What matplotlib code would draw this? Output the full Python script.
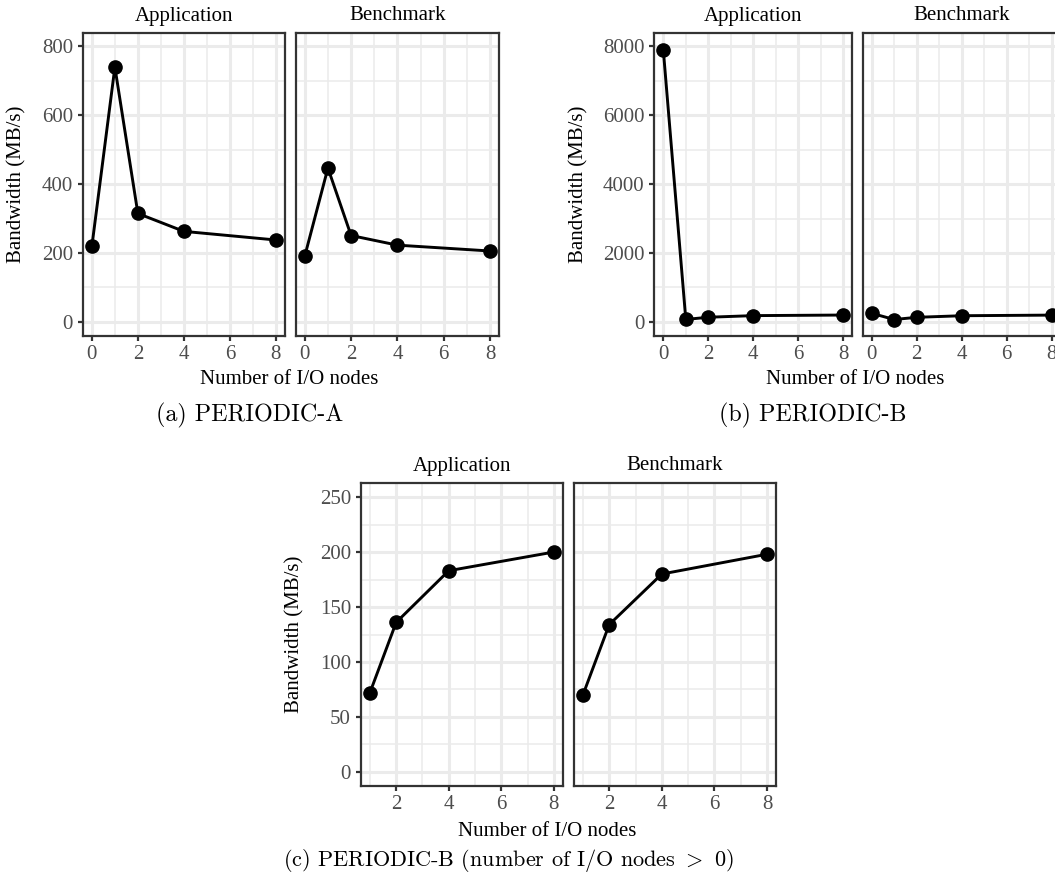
import matplotlib
matplotlib.use("Agg")
import matplotlib.pyplot as plt
import numpy as np

# ---------------- data ----------------
nodes = [0, 1, 2, 4, 8]
periodic_a_app = [220, 740, 315, 263, 238]
periodic_a_bench = [191, 447, 251, 223, 206]

periodic_b_app = [7900, 72, 136, 183, 200]
periodic_b_bench = [250, 70, 134, 180, 198]

nodes_pos = [1, 2, 4, 8]
periodic_b_pos_app = [72, 136, 183, 200]
periodic_b_pos_bench = [70, 134, 180, 198]

facet_labels = ["Application", "Benchmark"]
captions = ["(a) PERIODIC-A", "(b) PERIODIC-B",
            r"(c) PERIODIC-B (number of I/O nodes $>$ 0)"]
xlabel = "Number of I/O nodes"
ylabel = "Bandwidth (MB/s)"

# ---------------- style ----------------
plt.rcParams['mathtext.fontset'] = 'cm'
W, H = 1055, 882
fig = plt.figure(figsize=(W / 100, H / 100), dpi=100)
SERIF = ['Liberation Serif', 'DejaVu Serif']
FS = 15
GRID = '#EBEBEB'
EDGE = '#333333'
TICKC = '#4D4D4D'


def px_axes(x0, x1, y0, y1):
    return fig.add_axes([x0 / W, 1 - y1 / H, (x1 - x0) / W, (y1 - y0) / H])


def ftext(x, y, s, **kw):
    fig.text(x / W, 1 - y / H, s, **kw)


def style_axes(ax, xlim, ylim, xmaj, xmin, ymaj, ymin, show_y):
    ax.set_xlim(*xlim)
    ax.set_ylim(*ylim)
    ax.set_xticks(xmaj)
    ax.set_xticks(xmin, minor=True)
    ax.set_yticks(ymaj)
    ax.set_yticks(ymin, minor=True)
    ax.set_axisbelow(True)
    ax.grid(True, which='major', color=GRID, lw=2.2)
    ax.grid(True, which='minor', color=GRID, lw=1.1)
    for sp in ax.spines.values():
        sp.set_color(EDGE)
        sp.set_linewidth(1.6)
    ax.tick_params(which='major', length=3.5, width=1.6, color=EDGE,
                   labelcolor=TICKC, labelsize=FS, pad=3.5)
    ax.tick_params(which='minor', length=0)
    for lab in ax.get_xticklabels() + ax.get_yticklabels():
        lab.set_family(SERIF)
    if not show_y:
        ax.tick_params(axis='y', which='both', left=False, labelleft=False)


def draw(ax, x, y):
    ax.plot(x, y, color='black', lw=2.1, marker='o', ms=9.5,
            markerfacecolor='black', markeredgecolor='black', clip_on=False, zorder=3)


# ---------------- (a) ----------------
top, bot = 32.7, 335.7
panels_a = [(82.7, 285.0), (295.5, 499.3)]
series_a = [periodic_a_app, periodic_a_bench]
for i, ((x0, x1), ys) in enumerate(zip(panels_a, series_a)):
    ax = px_axes(x0, x1, top, bot)
    draw(ax, nodes, ys)
    style_axes(ax, (-0.4, 8.4), (-40, 840), [0, 2, 4, 6, 8], [1, 3, 5, 7],
               [0, 200, 400, 600, 800], [100, 300, 500, 700], i == 0)
    ftext((x0 + x1) / 2, 16, facet_labels[i], ha='center', va='center',
          fontsize=FS, family=SERIF)
ftext(16.7, (top + bot) / 2, ylabel, rotation=90, ha='center', va='center',
      fontsize=FS, family=SERIF)
ftext(289, 379, xlabel, ha='center', va='center', fontsize=FS, family=SERIF)
ftext(250, 415, captions[0], ha='center', va='center', fontsize=17.3, family='cmr10')

# ---------------- (b) ----------------
panels_b = [(654.3, 852.3), (862.7, 1060.7)]
series_b = [periodic_b_app, periodic_b_bench]
for i, ((x0, x1), ys) in enumerate(zip(panels_b, series_b)):
    ax = px_axes(x0, x1, top, bot)
    draw(ax, nodes, ys)
    style_axes(ax, (-0.4, 8.4), (-400, 8400), [0, 2, 4, 6, 8], [1, 3, 5, 7],
               [0, 2000, 4000, 6000, 8000], [1000, 3000, 5000, 7000], i == 0)
    ftext((x0 + x1) / 2, 16, facet_labels[i], ha='center', va='center',
          fontsize=FS, family=SERIF)
ftext(579, (top + bot) / 2, ylabel, rotation=90, ha='center', va='center',
      fontsize=FS, family=SERIF)
ftext(855, 379, xlabel, ha='center', va='center', fontsize=FS, family=SERIF)
ftext(813, 415, captions[1], ha='center', va='center', fontsize=17.3, family='cmr10')

# ---------------- (c) ----------------
top_c, bot_c = 483.3, 785.7
panels_c = [(360.7, 563.0), (573.7, 776.3)]
series_c = [periodic_b_pos_app, periodic_b_pos_bench]
for i, ((x0, x1), ys) in enumerate(zip(panels_c, series_c)):
    ax = px_axes(x0, x1, top_c, bot_c)
    draw(ax, nodes_pos, ys)
    style_axes(ax, (0.65, 8.35), (-12.5, 262.5), [2, 4, 6, 8], [1, 3, 5, 7],
               [0, 50, 100, 150, 200, 250], [25, 75, 125, 175, 225], i == 0)
    ftext((x0 + x1) / 2, 466, facet_labels[i], ha='center', va='center',
          fontsize=FS, family=SERIF)
ftext(295, (top_c + bot_c) / 2, ylabel, rotation=90, ha='center', va='center',
      fontsize=FS, family=SERIF)
ftext(547, 832, xlabel, ha='center', va='center', fontsize=FS, family=SERIF)
ftext(509, 860, captions[2], ha='center', va='center', fontsize=16.0, family='cmr10')

fig.savefig("out.png", dpi=100, facecolor='white')
